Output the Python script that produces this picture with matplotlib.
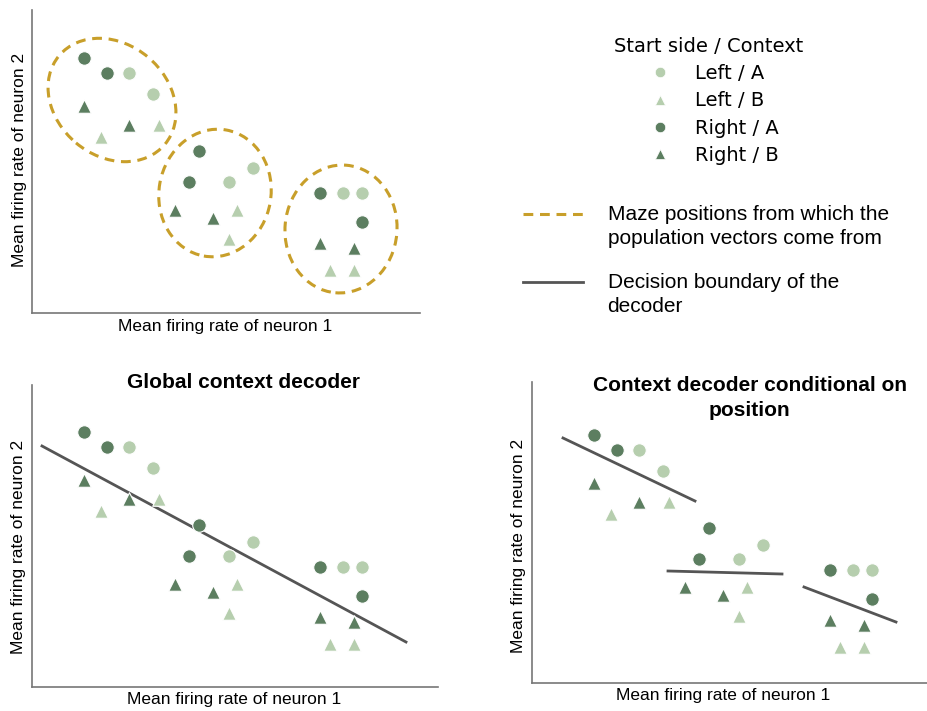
import matplotlib.pyplot as plt
from matplotlib.patches import Ellipse
from matplotlib.lines import Line2D

W, H = 928, 711

# schematic points (neuron 1 rate, neuron 2 rate), arbitrary units
right_a_x = [52, 75, 167, 157, 288, 330]
right_a_y = [255, 240, 162, 131, 120, 91]
left_a_x = [97, 121, 221, 197, 311, 330]
left_a_y = [240, 219, 145, 131, 120, 120]
right_b_x = [52, 97, 143, 181, 288, 322]
right_b_y = [207, 188, 103, 95, 70, 65]
left_b_x = [69, 127, 205, 197, 298, 322]
left_b_y = [176, 188, 103, 74, 43, 43]

# maze position clusters: centre x, centre y, width, height, angle
clusters = [(80, 213, 138, 112, -40), (183, 120, 112, 128, -10), (309, 84, 112, 128, -5)]

# decision boundaries
global_line_x = [10, 374]
global_line_y = [241, 45]
local_lines = [([21, 153], [252, 189]), ([126, 240], [119, 116]), ([262, 354], [103, 68])]

dark = '#5c7e60'
light = '#b6ceae'
gold = '#c89f2a'
gray = '#555555'
spine_c = '#777777'
dash = (0, (3.2, 2.2))

fig = plt.figure(figsize=(W / 100, H / 100), dpi=100)


def make_ax(x0, y_bottom, x1, y_top, xlim, ylim):
    ax = fig.add_axes([x0 / W, 1 - y_bottom / H, (x1 - x0) / W, (y_bottom - y_top) / H])
    ax.set_xlim(*xlim)
    ax.set_ylim(*ylim)
    for s in ['top', 'right']:
        ax.spines[s].set_visible(False)
    for s in ['left', 'bottom']:
        ax.spines[s].set_color(spine_c)
        ax.spines[s].set_linewidth(1.2)
    ax.set_xticks([])
    ax.set_yticks([])
    return ax


def draw_points(ax):
    kw = dict(s=95, edgecolors='white', linewidths=0.8, zorder=3)
    ax.scatter(left_a_x, left_a_y, c=light, marker='o', **kw)
    ax.scatter(left_b_x, left_b_y, c=light, marker='^', **kw)
    ax.scatter(right_a_x, right_a_y, c=dark, marker='o', **kw)
    ax.scatter(right_b_x, right_b_y, c=dark, marker='^', **kw)


def labels(ax, xpos, ypos):
    ax.set_xlabel('Mean firing rate of neuron 1', fontsize=12.5, family='Liberation Sans', va='center')
    ax.xaxis.set_label_coords(*xpos)
    ax.set_ylabel('Mean firing rate of neuron 2', fontsize=12.5, family='Liberation Sans', va='center')
    ax.yaxis.set_label_coords(*ypos)


# top left: clusters
ax1 = make_ax(32, 313, 420, 10, (0, 388), (0, 303))
draw_points(ax1)
for cx, cy, w, h, a in clusters:
    ax1.add_patch(Ellipse((cx, cy), w, h, angle=a, fill=False, edgecolor=gold,
                          lw=2.2, linestyle=dash))
labels(ax1, (0.497, -0.043), (-0.031, 0.505))

# bottom left: global decoder
ax2 = make_ax(32, 687, 438, 385, (0, 406), (0, 302))
draw_points(ax2)
ax2.plot(global_line_x, global_line_y, color=gray, lw=2)
labels(ax2, (0.4975, -0.043), (-0.033, 0.464))
ax2.text(0.52, 1.007, 'Global context decoder', transform=ax2.transAxes, ha='center', va='center',
         fontsize=15, fontweight='bold', family='Liberation Sans')

# bottom right: conditional decoder
ax3 = make_ax(532, 683, 928, 382, (-10, 386), (7, 308))
draw_points(ax3)
for lx, ly in local_lines:
    ax3.plot(lx, ly, color=gray, lw=2)
labels(ax3, (0.482, -0.04), (-0.035, 0.455))
ax3.text(0.55, 0.948, 'Context decoder conditional on\nposition', transform=ax3.transAxes,
         ha='center', va='center', fontsize=15, fontweight='bold', family='Liberation Sans',
         linespacing=1.4)

# legends
mk = dict(linestyle='none', markersize=7.5, markeredgecolor='white', markeredgewidth=0.5)
h1 = [Line2D([], [], marker='o', color=light, **mk),
      Line2D([], [], marker='^', color=light, **mk),
      Line2D([], [], marker='o', color=dark, **mk),
      Line2D([], [], marker='^', color=dark, **mk)]
leg1 = fig.legend(h1, ['Left / A', 'Left / B', 'Right / A', 'Right / B'], title='Start side / Context',
                  loc='upper left', bbox_to_anchor=(614 / W, 1 - 37 / H), frameon=False,
                  borderpad=0, borderaxespad=0, handlelength=2.2, handletextpad=0.67,
                  labelspacing=0.42, fontsize=14, title_fontsize=14)

h2 = [Line2D([], [], color=gold, lw=2.2, linestyle=dash),
      Line2D([], [], color=gray, lw=2)]
leg2 = fig.legend(h2, ['Maze positions from which the\npopulation vectors come from',
                       'Decision boundary of the\ndecoder'],
                  loc='upper left', bbox_to_anchor=(523 / W, 1 - 204.5 / H), frameon=False,
                  borderpad=0, borderaxespad=0, handlelength=2.86, handletextpad=1.2,
                  handleheight=1.4, labelspacing=1.2,
                  prop={'family': 'Liberation Sans', 'size': 15})
for t in leg2.get_texts():
    t.set_linespacing(1.36)
# keep each key next to the first line of its label
for col in leg2._legend_handle_box.get_children():
    for row in col.get_children():
        row.align = 'top'

fig.savefig('out.png', dpi=100)
